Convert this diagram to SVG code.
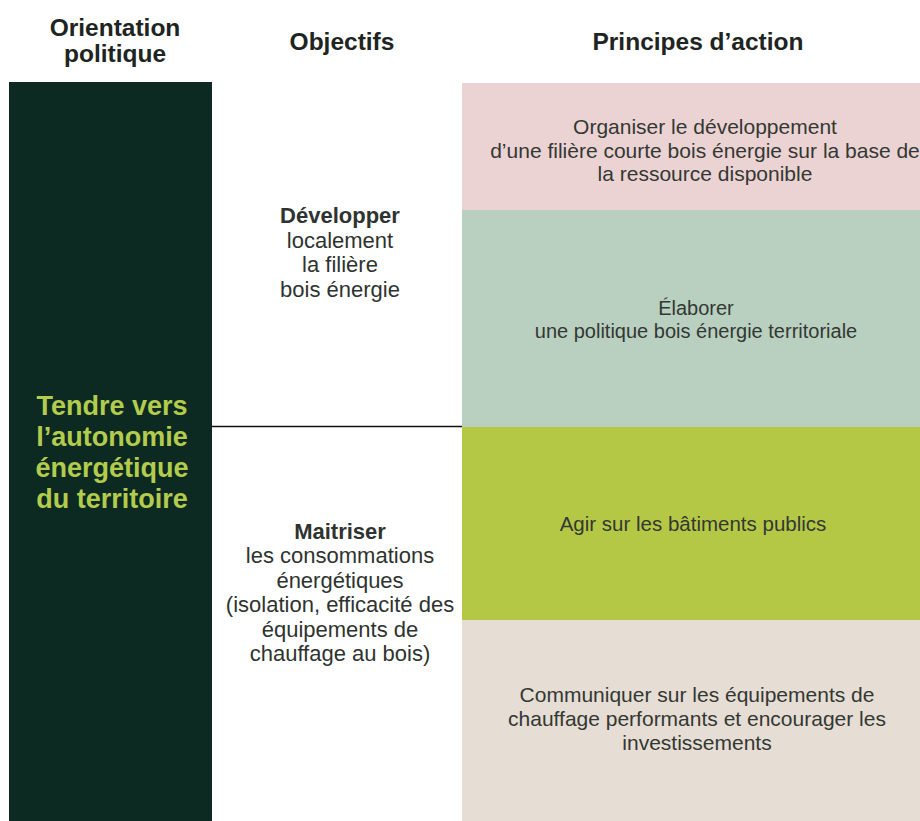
<svg xmlns="http://www.w3.org/2000/svg" width="920" height="821" viewBox="0 0 920 821">
<style>
.h{font-family:"Liberation Sans",Arial,sans-serif;font-weight:bold;font-size:24.5px;fill:#1e2421;text-anchor:middle}
.o{font-family:"Liberation Sans",Arial,sans-serif;font-size:22px;fill:#2f3330;text-anchor:middle}
.ob{font-weight:bold}
.p{font-family:"Liberation Sans",Arial,sans-serif;font-size:21px;fill:#333833;text-anchor:middle}
.g{font-size:20px}
.a{font-size:20.5px}
.t{font-family:"Liberation Sans",Arial,sans-serif;font-weight:bold;font-size:27px;fill:#b3cc4e;text-anchor:middle}
</style>
<rect width="920" height="821" fill="#ffffff"/>
<g id="headers">
<text class="h" x="115" y="36">Orientation</text>
<text class="h" x="115" y="62">politique</text>
<text class="h" x="342" y="50">Objectifs</text>
<text class="h" x="698" y="50">Principes d’action</text>
</g>
<g id="orientation">
<rect x="9" y="82" width="203" height="739" fill="#0d2a22"/>
<text class="t" x="112" y="415">Tendre vers</text>
<text class="t" x="112" y="446">l’autonomie</text>
<text class="t" x="112" y="477">énergétique</text>
<text class="t" x="112" y="508">du territoire</text>
</g>
<g id="obj1">
<text class="o ob" x="340" y="223">Développer</text>
<text class="o" x="340" y="248">localement</text>
<text class="o" x="340" y="272">la filière</text>
<text class="o" x="340" y="297">bois énergie</text>
</g>
<g id="obj2">
<text class="o ob" x="340" y="539">Maitriser</text>
<text class="o" x="340" y="563">les consommations</text>
<text class="o" x="340" y="588">énergétiques</text>
<text class="o" x="340" y="612">(isolation, efficacité des</text>
<text class="o" x="340" y="637">équipements de</text>
<text class="o" x="340" y="661">chauffage au bois)</text>
</g>
<g id="p1">
<rect x="462" y="83" width="458" height="127" fill="#ebd3d3"/>
<text class="p" x="705" y="134">Organiser le développement</text>
<text class="p" x="705" y="158">d’une filière courte bois énergie sur la base de</text>
<text class="p" x="705" y="181">la ressource disponible</text>
</g>
<g id="p2">
<rect x="462" y="210" width="458" height="217" fill="#b9d0c0"/>
<text class="p g" x="696" y="315">Élaborer</text>
<text class="p g" x="696" y="338">une politique bois énergie territoriale</text>
</g>
<g id="p3">
<rect x="462" y="427" width="458" height="193" fill="#b5c846"/>
<text class="p a" x="693" y="531">Agir sur les bâtiments publics</text>
</g>
<g id="p4">
<rect x="462" y="620" width="458" height="201" fill="#e6ddd4"/>
<text class="p" x="697" y="702">Communiquer sur les équipements de</text>
<text class="p" x="697" y="726">chauffage performants et encourager les</text>
<text class="p" x="697" y="750">investissements</text>
</g>
<g id="connectors">
<line x1="212" y1="426.5" x2="462" y2="426.5" stroke="#111" stroke-width="1.5"/>
</g>
</svg>
